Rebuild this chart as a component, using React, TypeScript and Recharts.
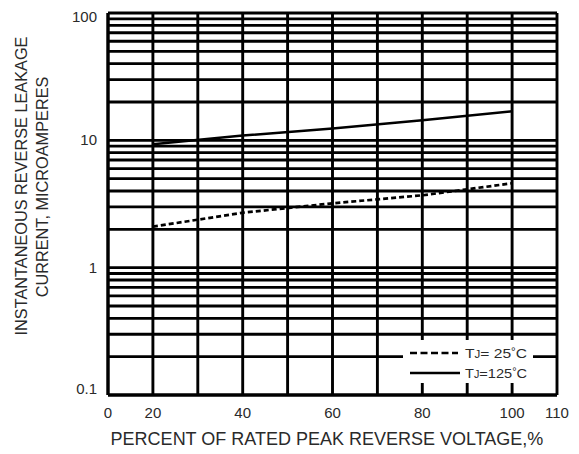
import React from 'react';
import { LineChart, Line, XAxis, YAxis, CartesianGrid, Legend } from 'recharts';

// Percent of rated peak reverse voltage
const voltagePct = [20, 40, 60, 80, 100];
// Leakage current (microamperes)
const leakTj25 = [2.1, 2.7, 3.2, 3.7, 4.6];
const leakTj125 = [9.3, 10.9, 12.4, 14.4, 16.9];

// X axis is broken between 0 and 20 in the original: the "0" tick sits one grid step left of 20
const xTicks = [10, 20, 30, 40, 50, 60, 70, 80, 90, 100, 110];
const xTickLabels: Record<number, string> = { 10: '0', 20: '20', 40: '40', 60: '60', 80: '80', 100: '100', 110: '110' };

const yTicks = [
  0.1, 0.2, 0.3, 0.4, 0.5, 0.6, 0.7, 0.8, 0.9,
  1, 2, 3, 4, 5, 6, 7, 8, 9,
  10, 20, 30, 40, 50, 60, 70, 80, 90, 100,
];
const yTickLabels: Record<string, string> = { '0.1': '0.1', '1': '1', '10': '10', '100': '100' };

const xTitle = 'PERCENT OF RATED PEAK REVERSE VOLTAGE,%';
const yTitle1 = 'INSTANTANEOUS REVERSE LEAKAGE';
const yTitle2 = 'CURRENT, MICROAMPERES';

const data = voltagePct.map((v, i) => ({ v, t25: leakTj25[i], t125: leakTj125[i] }));

const FONT = '"Liberation Sans", Arial, sans-serif';
const TEXT = '#2a2a2a';

const XTick = (props: any) => {
  const label = xTickLabels[props.payload.value];
  if (!label) return null;
  return (
    <text x={props.x} y={418} textAnchor="middle" fontSize={15} fontFamily={FONT} fill={TEXT}>
      {label}
    </text>
  );
};

const YTick = (props: any) => {
  const label = yTickLabels[String(props.payload.value)];
  if (!label) return null;
  let dy = 5;
  if (label === '100') dy = 9;
  if (label === '0.1') dy = -1;
  return (
    <text x={97} y={props.y + dy} textAnchor="end" fontSize={15} fontFamily={FONT} fill={TEXT}>
      {label}
    </text>
  );
};

const XTitle = () => (
  <text x={327} y={445} textAnchor="middle" fontSize={18} fontFamily={FONT} fill={TEXT}>
    {xTitle}
  </text>
);

const YTitle = () => (
  <g fontFamily={FONT} fill={TEXT} fontSize={16.3}>
    <text x={27} y={186} textAnchor="middle" transform="rotate(-90, 27, 186)">{yTitle1}</text>
    <text x={48} y={187} textAnchor="middle" transform="rotate(-90, 48, 187)">{yTitle2}</text>
  </g>
);

const LegendBox = () => (
  <svg width={130} height={43} style={{ display: 'block' }}>
    <line x1={7} y1={13} x2={55} y2={13} stroke="#000" strokeWidth={2.5} strokeDasharray="7 3.5" />
    <line x1={7} y1={33} x2={57} y2={33} stroke="#000" strokeWidth={2.5} />
    <text x={62} y={18} fontSize={13.5} fontFamily={FONT} fill={TEXT} textLength={62} lengthAdjust="spacingAndGlyphs">
      T<tspan fontSize={10}>J</tspan>= 25<tspan dy={-3} fontSize={10}>°</tspan><tspan dy={3}>C</tspan>
    </text>
    <text x={62} y={38} fontSize={13.5} fontFamily={FONT} fill={TEXT} textLength={62} lengthAdjust="spacingAndGlyphs">
      T<tspan fontSize={10}>J</tspan>=125<tspan dy={-3} fontSize={10}>°</tspan><tspan dy={3}>C</tspan>
    </text>
  </svg>
);

export default function App() {
  return (
    <div style={{ position: 'absolute', left: 0, top: 0, width: 579, height: 454, background: '#fff' }}>
      <LineChart width={579} height={454} data={data} margin={{ top: 13, right: 22, bottom: 29, left: 68 }}>
        <CartesianGrid stroke="#000" strokeWidth={2.9} />
        <XAxis
          type="number"
          dataKey="v"
          domain={[10, 110]}
          ticks={xTicks}
          interval={0}
          tickLine={false}
          axisLine={{ stroke: '#000', strokeWidth: 3 }}
          tick={<XTick />}
          height={30}
          label={(p: any) => <XTitle />}
        />
        <YAxis
          type="number"
          scale="log"
          domain={[0.1, 100]}
          allowDataOverflow
          ticks={yTicks}
          interval={0}
          tickLine={false}
          axisLine={{ stroke: '#000', strokeWidth: 3 }}
          tick={<YTick />}
          width={40}
          label={(p: any) => <YTitle />}
        />
        <Line
          type="linear"
          dataKey="t125"
          stroke="#000"
          strokeWidth={2.5}
          dot={false}
          activeDot={false}
          isAnimationActive={false}
        />
        <Line
          type="linear"
          dataKey="t25"
          stroke="#000"
          strokeWidth={2.7}
          strokeDasharray="5 3"
          dot={false}
          activeDot={false}
          isAnimationActive={false}
        />
        <Legend
          layout="horizontal"
          verticalAlign="middle"
          align="center"
          content={() => <LegendBox />}
          wrapperStyle={{ position: 'absolute', left: 403, top: 340, width: 130, height: 43, background: '#fff' }}
        />
      </LineChart>
    </div>
  );
}
